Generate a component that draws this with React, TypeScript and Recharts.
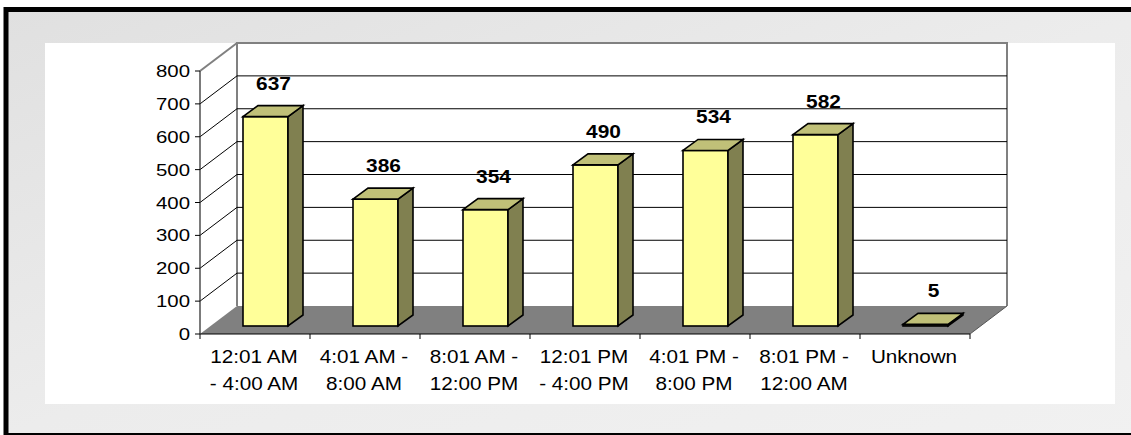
import React from "react";
import { BarChart, Bar, XAxis, YAxis, CartesianGrid, LabelList } from "recharts";

const categories = [
  "12:01 AM\n- 4:00 AM",
  "4:01 AM -\n8:00 AM",
  "8:01 AM -\n12:00 PM",
  "12:01 PM\n- 4:00 PM",
  "4:01 PM -\n8:00 PM",
  "8:01 PM -\n12:00 AM",
  "Unknown",
];
const counts = [637, 386, 354, 490, 534, 582, 5];
const yTicks = [0, 100, 200, 300, 400, 500, 600, 700, 800];

const data = categories.map((name, i) => ({ name, count: counts[i] }));

const W = 1131;
const H = 435;
// front plane of the 3d box
const PLOT_L = 200;
const PLOT_T = 71;
const PLOT_R = 970;
const PLOT_B = 334;
// depth of the box (back wall offset)
const DX = 37;
const DY = 28;
// bars sit a little inside the floor
const BX = 10;
const BY = 8;
const SX = 15;
const SY = 11;

const FONT = "'Liberation Sans', Arial, sans-serif";

const Bar3D = (props: any) => {
  const { x, y, width, height } = props;
  const x0 = x + BX;
  const y0 = y - BY;
  const yb = y + height - BY;
  const x1 = x0 + width;
  return (
    <g stroke="#000" strokeWidth={1.6} strokeLinejoin="miter">
      <rect x={x0} y={y0} width={width} height={Math.max(height, 0)} fill="#ffff99" />
      <polygon
        points={`${x1},${y0} ${x1 + SX},${y0 - SY} ${x1 + SX},${yb - SY} ${x1},${yb}`}
        fill="#808050"
      />
      <polygon
        points={`${x0},${y0} ${x0 + SX},${y0 - SY} ${x1 + SX},${y0 - SY} ${x1},${y0}`}
        fill="#c0c078"
      />
    </g>
  );
};

const gridLine = (props: any) => {
  const { x1, y1, x2 } = props;
  if (Math.abs(y1 - PLOT_B) < 1) {
    return (
      <g key={props.key ?? `g-${y1}`}>
        <polygon
          points={`${x1},${y1} ${x2},${y1} ${x2 + DX},${y1 - DY} ${x1 + DX},${y1 - DY}`}
          fill="#808080"
        />
        <line x1={x2} y1={y1} x2={x2 + DX} y2={y1 - DY} stroke="#555" strokeWidth={1} />
      </g>
    );
  }
  if (Math.abs(y1 - PLOT_T) < 1) {
    return (
      <line
        key={props.key ?? `g-${y1}`}
        x1={x1}
        y1={y1}
        x2={x1 + DX}
        y2={y1 - DY}
        stroke="#808080"
        strokeWidth={2}
      />
    );
  }
  return (
    <g key={props.key ?? `g-${y1}`} stroke="#000" strokeWidth={1}>
      <line x1={x1} y1={y1} x2={x1 + DX} y2={y1 - DY} />
      <line x1={x1 + DX} y1={y1 - DY} x2={x2 + DX} y2={y1 - DY} />
    </g>
  );
};

const YTick = (props: any) => {
  const { x, y, payload } = props;
  return (
    <text
      transform={`translate(${x},${y + 6}) scale(1.2,1)`}
      textAnchor="end"
      fontSize={17}
      fontFamily={FONT}
      fill="#000"
    >
      {payload.value}
    </text>
  );
};

const XTick = (props: any) => {
  const { x, payload, index } = props;
  const bw = (PLOT_R - PLOT_L) / categories.length;
  const lines = String(payload.value).split("\n");
  return (
    <g>
      <line x1={x - bw / 2} y1={PLOT_B} x2={x - bw / 2} y2={PLOT_B + 5} stroke="#000" />
      {index === categories.length - 1 && (
        <line x1={x + bw / 2} y1={PLOT_B} x2={x + bw / 2} y2={PLOT_B + 5} stroke="#000" />
      )}
      {lines.map((l, i) => (
        <text
          key={i}
          transform={`translate(${x - 1},${PLOT_B + 29 + i * 26.7}) scale(1.15,1)`}
          textAnchor="middle"
          fontSize={18}
          fontFamily={FONT}
          fill="#000"
        >
          {l}
        </text>
      ))}
    </g>
  );
};

const ValueLabel = (props: any) => {
  const { x, y, width, value } = props;
  const cx = Number(x) + Number(width) / 2 + BX + 8;
  const cy = Number(y) - BY - 34;
  return (
    <text
      transform={`translate(${cx},${cy + 7}) scale(1.1,1)`}
      textAnchor="middle"
      fontSize={19}
      fontWeight="bold"
      fontFamily={FONT}
      fill="#000"
    >
      {value}
    </text>
  );
};

const Backdrop = () => (
  <svg width={W} height={H} style={{ position: "absolute", left: 0, top: 0 }}>
    <defs>
      <linearGradient id="bg" x1="0" y1="0" x2="1" y2="1">
        <stop offset="0" stopColor="#e0e0e0" />
        <stop offset="0.5" stopColor="#ececec" />
        <stop offset="1" stopColor="#f1f1f1" />
      </linearGradient>
    </defs>
    <rect x={6} y={9.5} width={W + 20} height={426} fill="url(#bg)" stroke="#000" strokeWidth={5} />
    <rect x={45} y={43} width={1070} height={361} fill="#fff" />
    {/* back wall outline */}
    <polyline
      points={`${PLOT_L + DX},${PLOT_B - DY} ${PLOT_L + DX},${PLOT_T - DY} ${PLOT_R + DX},${PLOT_T - DY} ${PLOT_R + DX},${PLOT_B - DY}`}
      fill="none"
      stroke="#808080"
      strokeWidth={2}
    />
  </svg>
);

export default function App() {
  return (
    <div style={{ position: "absolute", left: 0, top: 0, width: W, height: H }}>
      <Backdrop />
      <div style={{ position: "absolute", left: 0, top: 0 }}>
        <BarChart
          width={W}
          height={H}
          data={data}
          margin={{ top: PLOT_T, right: W - PLOT_R, bottom: H - PLOT_B - 70, left: PLOT_L - 60 }}
        >
          <CartesianGrid vertical={false} horizontal={gridLine} />
          <XAxis
            dataKey="name"
            height={70}
            interval={0}
            tickLine={false}
            axisLine={{ stroke: "#000", strokeWidth: 1 }}
            tick={<XTick />}
          />
          <YAxis
            width={60}
            domain={[0, 800]}
            ticks={yTicks}
            interval={0}
            tickSize={5}
            tickMargin={5}
            tickLine={{ stroke: "#000" }}
            axisLine={{ stroke: "#333", strokeWidth: 1.3 }}
            tick={<YTick />}
          />
          <Bar dataKey="count" barSize={45} shape={<Bar3D />} isAnimationActive={false}>
            <LabelList dataKey="count" content={<ValueLabel />} />
          </Bar>
        </BarChart>
      </div>
    </div>
  );
}
